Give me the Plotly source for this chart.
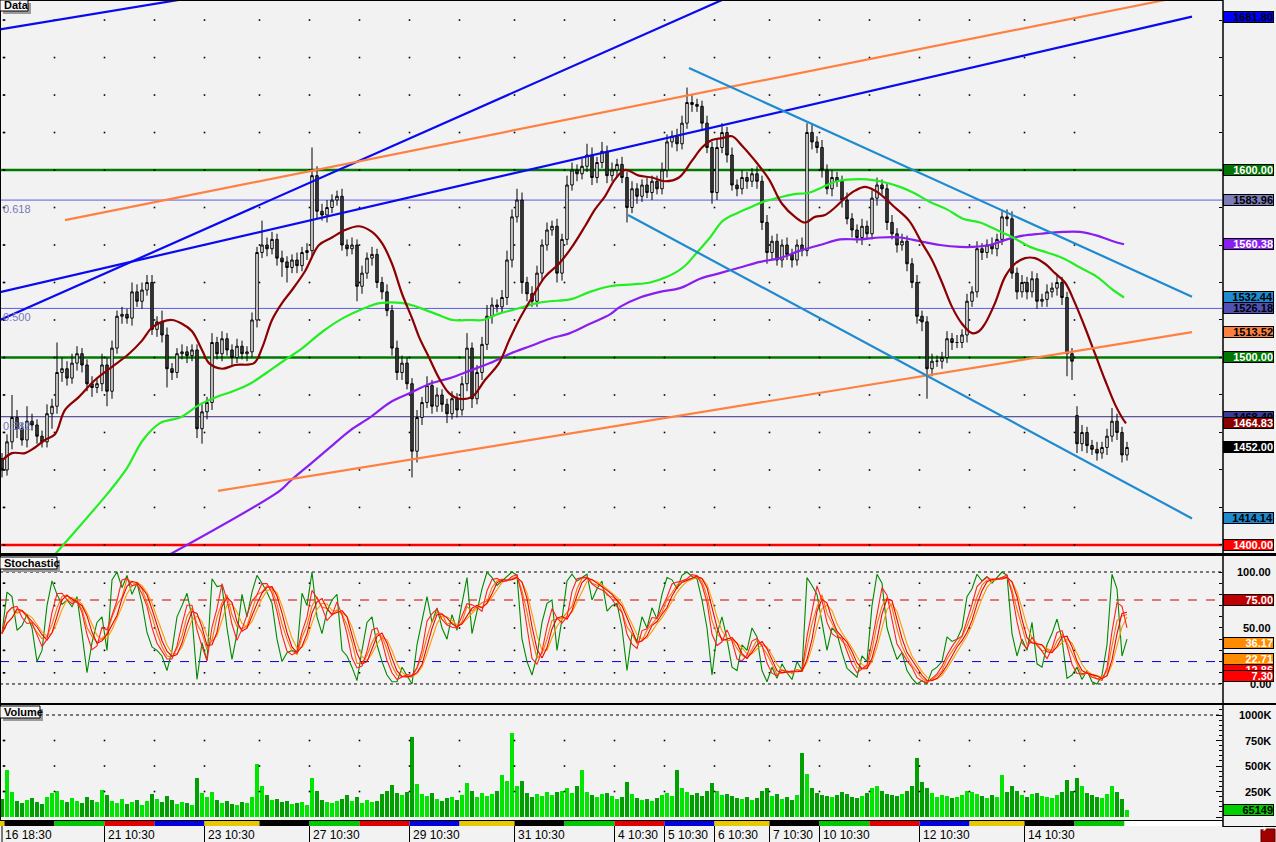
import plotly.graph_objects as go
import pandas as pd

W, H = 1276, 842
PLOT_R = 1222

# ---------------- data ----------------
close = [
    1440, 1455, 1468, 1462, 1456, 1466, 1464, 1458, 1455, 1470,
    1474, 1492, 1494, 1489, 1497, 1502, 1496, 1486, 1484, 1486,
    1496, 1482, 1505, 1522, 1523, 1521, 1535, 1530, 1536, 1540,
    1515, 1519, 1512, 1494, 1492, 1502, 1503, 1501, 1504, 1462,
    1471, 1476, 1508, 1502, 1510, 1504, 1500, 1506, 1502, 1503,
    1520, 1556, 1560, 1558, 1563, 1553, 1551, 1548, 1552, 1549,
    1556, 1557, 1597, 1578, 1576, 1580, 1584, 1586, 1560, 1558,
    1560, 1538, 1545, 1553, 1555, 1540, 1535, 1525, 1505, 1492,
    1497, 1486, 1450, 1468, 1476, 1485, 1474, 1480, 1475, 1470,
    1478, 1472, 1486, 1505, 1478, 1492, 1507, 1522, 1528, 1527,
    1532, 1552, 1575, 1584, 1540, 1534, 1530, 1545, 1560, 1568,
    1570, 1545, 1563, 1592, 1600, 1598, 1602, 1608, 1596, 1604,
    1610, 1597, 1600, 1603, 1596, 1580, 1590, 1586, 1592, 1588,
    1594, 1590, 1600, 1615, 1618, 1614, 1625, 1636, 1635, 1634,
    1625, 1612, 1588, 1612, 1620, 1608, 1592, 1590, 1596, 1594,
    1598, 1594, 1572, 1556, 1562, 1552, 1560, 1555, 1552, 1560,
    1557, 1620, 1615, 1612, 1600, 1590, 1596, 1594, 1584, 1574,
    1568, 1564, 1570, 1566, 1585, 1592, 1590, 1572, 1566, 1560,
    1562, 1550, 1540, 1522, 1519, 1494, 1498, 1498, 1500, 1510,
    1508, 1508, 1512, 1530, 1535, 1558, 1556, 1560, 1558, 1563,
    1575, 1574, 1545, 1535, 1540, 1535, 1542, 1530, 1531, 1535,
    1537, 1540, 1532, 1502, 1498, 1454, 1460, 1453, 1451, 1449,
    1452, 1458, 1466, 1460, 1448, 1452,
]
open_override = {0: 1446, 215: 1469}
up_wick = [
    3, 4, 12, 4, 3, 8, 4, 3, 3, 5,
    4, 16, 6, 4, 5, 4, 3, 3, 4, 3,
    6, 4, 4, 3, 4, 3, 5, 4, 4, 4,
    4, 3, 6, 4, 3, 3, 4, 3, 3, 3,
    4, 3, 5, 3, 4, 3, 3, 4, 3, 3,
    4, 3, 13, 4, 4, 3, 4, 3, 3, 4,
    3, 4, 15, 5, 4, 4, 3, 3, 4, 3,
    4, 3, 4, 3, 4, 3, 3, 4, 3, 4,
    4, 3, 3, 4, 3, 5, 3, 4, 3, 3,
    4, 3, 4, 8, 3, 4, 4, 6, 4, 3,
    4, 5, 4, 6, 4, 3, 4, 4, 3, 4,
    3, 4, 3, 5, 4, 3, 4, 6, 4, 3,
    5, 3, 4, 3, 4, 3, 4, 3, 3, 4,
    3, 3, 4, 4, 3, 4, 4, 8, 4, 3,
    3, 4, 3, 4, 5, 3, 4, 3, 4, 3,
    3, 4, 3, 4, 3, 4, 3, 4, 3, 3,
    4, 5, 4, 3, 4, 3, 4, 3, 3, 4,
    3, 3, 4, 3, 4, 4, 3, 3, 4, 3,
    4, 3, 3, 4, 3, 3, 4, 3, 3, 4,
    3, 4, 3, 4, 3, 4, 3, 3, 4, 3,
    3, 4, 4, 3, 4, 3, 4, 3, 3, 4,
    3, 4, 3, 3, 3, 5, 4, 3, 3, 4,
    3, 4, 7, 4, 3, 3,
]
dn_wick = [
    4, 3, 4, 5, 3, 4, 3, 4, 3, 3,
    8, 4, 5, 4, 3, 4, 4, 4, 5, 3,
    4, 8, 4, 3, 4, 3, 4, 3, 4, 3,
    3, 4, 4, 10, 4, 3, 3, 4, 3, 5,
    8, 4, 4, 3, 4, 3, 4, 3, 3, 4,
    3, 4, 3, 4, 3, 4, 8, 8, 3, 4,
    3, 4, 4, 4, 3, 4, 3, 3, 3, 4,
    3, 8, 4, 3, 4, 3, 4, 3, 4, 4,
    4, 3, 14, 6, 4, 3, 4, 3, 4, 5,
    3, 4, 3, 4, 5, 3, 4, 3, 4, 3,
    3, 4, 4, 3, 6, 4, 3, 3, 4, 3,
    3, 5, 4, 3, 3, 4, 3, 3, 4, 3,
    3, 4, 3, 4, 3, 8, 3, 4, 3, 3,
    4, 3, 3, 4, 3, 4, 3, 3, 4, 3,
    4, 3, 6, 4, 3, 4, 3, 4, 3, 4,
    3, 4, 4, 6, 4, 3, 4, 3, 4, 3,
    3, 3, 4, 3, 4, 3, 4, 3, 4, 3,
    4, 3, 4, 3, 3, 4, 3, 4, 3, 4,
    3, 4, 3, 4, 5, 16, 4, 3, 4, 3,
    4, 3, 3, 4, 3, 3, 4, 3, 3, 4,
    3, 4, 3, 4, 3, 4, 3, 4, 3, 4,
    3, 4, 4, 12, 10, 5, 4, 4, 3, 4,
    3, 4, 3, 4, 4, 3,
]
volume_k = [
    180, 460, 250, 160, 140, 170, 190, 150, 130, 200,
    240, 260, 170, 150, 190, 160, 140, 200, 170, 150,
    265, 220, 160, 140, 180, 130, 150, 170, 120, 160,
    230, 180, 150, 210, 170, 130, 150, 140, 120, 380,
    240, 200, 250, 170, 140, 160, 130, 120, 150, 140,
    200, 520, 300, 220, 170, 180, 150, 160, 130, 140,
    150, 120, 380, 260, 170, 150, 140, 160, 180, 220,
    160, 200, 140, 170, 150, 160, 230, 260, 310, 240,
    220, 250, 780, 320, 230, 210, 240, 180, 160, 190,
    200, 170, 220, 330, 260, 200, 240, 210, 230, 260,
    410, 350, 820, 300, 350, 240, 200, 230, 210, 250,
    220, 250, 260, 280, 240, 300, 460, 250, 220, 200,
    230, 240, 210, 180, 200, 340, 230, 190, 170, 180,
    160, 190, 220, 240, 210, 460, 280, 250, 220, 240,
    210, 260, 330, 260, 220, 230, 210, 190, 180, 200,
    170, 190, 260, 280, 210, 230, 180, 200, 170, 220,
    630, 420, 280, 240, 220, 210, 200, 220, 250, 230,
    200, 190, 210, 240, 280, 300, 260, 230, 220, 210,
    230, 260, 300, 580, 340, 280, 240, 200, 220, 210,
    190, 200, 220, 260, 250, 230, 210, 190, 220, 200,
    410, 250, 300, 260, 220, 200, 230, 240, 210, 200,
    190, 220, 250, 360, 260, 380, 300, 240, 220, 200,
    190, 230, 300, 250, 180, 65.149,
]
stoch_k = [
    45, 82, 78, 48, 52, 62, 50, 20, 30, 70,
    92, 80, 71, 75, 69, 78, 45, 10, 37, 55,
    60, 30, 93, 100, 86, 97, 80, 90, 72, 46,
    33, 30, 25, 12, 30, 60, 70, 81, 60, 4,
    37, 21, 94, 87, 88, 50, 22, 45, 80, 60,
    82, 97, 90, 82, 72, 40, 20, 28, 30, 28,
    81, 70, 100, 60, 45, 65, 75, 80, 30, 25,
    15, 3, 30, 55, 60, 35, 20, 8, 2, 2,
    15, 8, 0, 35, 55, 78, 55, 68, 50, 40,
    62, 48, 72, 95, 45, 65, 85, 100, 95, 88,
    92, 96, 100, 97, 40, 20, 8, 25, 55, 72,
    75, 30, 58, 92, 98, 92, 95, 98, 75, 85,
    92, 65, 70, 72, 50, 12, 45, 38, 60, 50,
    68, 58, 80, 95, 93, 85, 97, 100, 96, 94,
    75, 50, 8, 45, 60, 40, 15, 12, 35, 30,
    50, 42, 12, 2, 15, 5, 18, 10, 4, 20,
    12, 95, 88, 80, 55, 30, 50, 45, 28, 14,
    10, 6, 25, 20, 70, 98, 90, 50, 35, 22,
    28, 12, 5, 0, 3, 0, 12, 15, 20, 42,
    38, 40, 50, 78, 85, 98, 92, 96, 90, 95,
    100, 97, 45, 25, 40, 30, 55, 18, 15, 35,
    45, 58, 40, 5, 8, 15, 4, 12, 2, 0,
    8, 35, 98, 85, 25, 40,
]

# moving averages (bar index, value)
ma_fast_x = [0, 2, 4.6, 6.6, 8.6, 10.6, 12.6, 15.4, 18.6, 22, 25.4, 28, 30, 32, 34, 36, 38, 40, 41.4, 44,
             46.6, 50.4, 52, 54, 56, 58, 60.6, 63.4, 66, 68.6, 71.4, 74, 76, 78, 80, 82, 83.4, 85.4, 87.4,
             89.4, 91.4, 94, 96.6, 99.4, 101.4, 103.4, 106, 108.6, 111.4, 114, 116.6, 118.6, 120.6, 122.6,
             124.6, 127.4, 130, 132.6, 135.4, 138, 140, 142, 144, 146, 148, 150.6, 153.4, 156, 158.6, 160.6,
             162.6, 164.6, 166.6, 168.6, 170.6, 172.6, 174.6, 176.6, 178.6, 181.4, 184, 186, 188, 190, 192,
             194, 195.4, 196.6, 198.6, 200.6, 202.6, 204.6, 206.6, 208.6, 210.6, 212.6, 214.6, 216.6, 218.6,
             220.6, 222.6, 224, 224.8]
ma_fast_y = [1445, 1449, 1449, 1452, 1456, 1459, 1472, 1479, 1488, 1495, 1502, 1509, 1516, 1519, 1520, 1518,
             1514, 1504, 1497, 1494, 1496, 1497, 1505, 1520, 1529, 1536, 1546, 1560, 1564, 1568, 1570, 1567,
             1561, 1550, 1534, 1521, 1511, 1500, 1489, 1481, 1478, 1479, 1488, 1497, 1509, 1520, 1532, 1543,
             1550, 1559, 1570, 1579, 1586, 1595, 1600, 1597, 1596, 1594, 1596, 1605, 1612, 1616, 1617, 1618,
             1613, 1605, 1595, 1582, 1575, 1572, 1575, 1576, 1580, 1585, 1589, 1591, 1589, 1585, 1580, 1573,
             1561, 1552, 1540, 1527, 1518, 1513, 1514, 1518, 1529, 1543, 1550, 1553, 1553, 1550, 1545, 1540,
             1529, 1516, 1502, 1488, 1475, 1468, 1464.83]
ma_mid_x = [10.6, 21.6, 25, 28.2, 31.6, 35.6, 39.6, 43, 46.2, 49.6, 53, 56.2, 59.6, 64.2, 68.2, 72.2, 75.6,
            80.2, 83, 87, 90.2, 93.6, 96.2, 99, 103, 107, 109.6, 113.6, 117.6, 121.6, 126.2, 129.6, 133,
            136.2, 139, 141.6, 144.2, 147, 149.6, 152.2, 155, 158.2, 161.6, 164.2, 167, 170.2, 173, 175.6,
            179.6, 182.2, 185.6, 189, 192.2, 195.6, 199, 202.2, 205.6, 209, 212.2, 215.6, 219, 222.2, 224.4]
ma_mid_y = [1395, 1429, 1441, 1456, 1465, 1468, 1475, 1479, 1482, 1486, 1492, 1498, 1504, 1514, 1521, 1526,
            1529, 1529, 1527, 1523, 1520, 1520, 1520, 1523, 1526, 1529, 1530, 1531, 1535, 1538, 1539, 1540,
            1543, 1548, 1556, 1564, 1573, 1577, 1580, 1583, 1585, 1587, 1588, 1591, 1594, 1595, 1595, 1594,
            1591, 1588, 1583, 1579, 1574, 1572, 1568, 1564, 1559, 1556, 1553, 1548, 1543, 1536, 1532]
ma_slow_x = [33.6, 55.6, 57.6, 61.6, 65.6, 69.6, 73.6, 77.6, 81.6, 85.6, 89.6, 93.6, 97.6, 101.6, 105.6,
             109.6, 113.6, 117.6, 121.6, 123.6, 127.6, 131.6, 135.6, 139.6, 143.6, 147.6, 151.6, 155.6, 159.6,
             163.6, 167.6, 171.6, 175.6, 179.6, 183.6, 187.6, 191.6, 194.2, 197.6, 201, 204.2, 207.6, 212.2,
             215.6, 219, 222.2, 224.4]
ma_slow_y = [1395, 1429, 1434, 1443, 1452, 1461, 1468, 1476, 1481, 1486, 1489, 1493, 1497, 1502, 1506,
             1510, 1513, 1518, 1523, 1527, 1532, 1535, 1537, 1542, 1545, 1548, 1551, 1553, 1557, 1560,
             1563, 1563, 1564, 1564, 1562, 1560, 1559, 1559, 1560, 1563, 1565, 1566, 1567, 1567, 1565,
             1562, 1560.38]

# trend lines: (bar index, price) end points
tl_blue_a = [(-0.4, 1675.0), (40.0, 1692.8)]
tl_blue_b = [(-0.4, 1520.0), (144.0, 1690.7)]
tl_blue_c = [(-0.4, 1534.9), (238.0, 1681.8)]
tl_orange_up = [(12.6, 1573.3), (232.6, 1690.7)]
tl_orange_lo = [(43.2, 1428.8), (238.0, 1513.52)]
tl_chan_up = [(137.4, 1654.4), (238.0, 1532.44)]
tl_chan_lo = [(125.2, 1576.0), (238.0, 1414.14)]

h_levels = [1600.0, 1500.0]
support_level = 1400.0
fib_levels = [1583.96, 1526.18, 1468.40]
fib_names = ["0.618", "0.500", "0.382"]

price_labels = [1681.80, 1600.00, 1583.96, 1560.38, 1532.44, 1526.18, 1513.52, 1500.00,
                1468.40, 1464.83, 1452.00, 1414.14, 1400.00]
stoch_labels = [75.00, 36.17, 22.71, 12.86, 7.30]
vol_labels = [1000000, 750000, 500000, 250000]
last_volume = 65149

day_first_bar = [0, 1, 11, 21, 31, 41, 52, 62, 72, 82, 92, 103, 113, 123, 133, 143, 154, 164, 174, 184,
                 194, 205, 215, 225]
day_label = ["16 18:30", "", "", "21 10:30", "", "23 10:30", "", "27 10:30", "", "29 10:30", "",
             "31 10:30", "", "4 10:30", "5 10:30", "6 10:30", "7 10:30", "10 10:30", "", "12 10:30", "",
             "14 10:30", "", ""]
grid_prices = list(range(1400, 1690, 20))
stoch_grid = [10, 30, 50, 70, 90]
vol_grid = [250000, 500000, 750000]

# ---------------- derived ----------------
n = len(close)
bars = list(range(n))
opens = [open_override.get(i, close[i - 1] if i > 0 else close[0]) for i in range(n)]
highs = [max(o, c) + u for o, c, u in zip(opens, close, up_wick)]
lows = [min(o, c) - d for o, c, d in zip(opens, close, dn_wick)]
volume = [v * 1000 for v in volume_k]
vol_colors = ["#00e600" if c >= o else "#00a000" for o, c in zip(opens, close)]
k = pd.Series(stoch_k, dtype=float)
d1 = k.rolling(3, min_periods=1).mean()
d2 = d1.rolling(3, min_periods=1).mean()
d3 = k.rolling(4, min_periods=1).mean()
d4 = d3.rolling(3, min_periods=1).mean()
boundaries = [b - 0.5 for b in day_first_bar[1:]]


def fx(px):
    return px / W


def fy(py):
    return 1 - py / H


X_MIN = -0.4
X_MAX = (PLOT_R - 2) / 5
BG = "#f2f2f2"
FONT = "Liberation Sans"

fig = go.Figure()

# grid dots
def dots(levels, yref):
    gx, gy = [], []
    for b in [0.3] + boundaries[:-1]:
        for p in levels:
            gx.append(b)
            gy.append(p)
    fig.add_trace(go.Scatter(x=gx, y=gy, mode="markers",
                             marker=dict(size=1.6, color="black", symbol="square", line=dict(width=0)),
                             hoverinfo="skip", showlegend=False, yaxis=yref))


dots(grid_prices, "y")
dots(stoch_grid, "y2")
dots(vol_grid, "y3")


def tl(pts, color, width=2.2):
    fig.add_trace(go.Scatter(x=[p[0] for p in pts], y=[p[1] for p in pts], mode="lines",
                             line=dict(color=color, width=width), hoverinfo="skip", showlegend=False,
                             yaxis="y"))


# moving averages
fig.add_trace(go.Scatter(x=ma_slow_x, y=ma_slow_y, mode="lines", line=dict(color="#8a1ef0", width=2.2, shape="spline"),
                         hoverinfo="skip", showlegend=False, yaxis="y"))
fig.add_trace(go.Scatter(x=ma_mid_x, y=ma_mid_y, mode="lines", line=dict(color="#22ee22", width=2.2, shape="spline"),
                         hoverinfo="skip", showlegend=False, yaxis="y"))

# candles
fig.add_trace(go.Candlestick(
    x=bars, open=opens, high=highs, low=lows, close=close,
    increasing=dict(line=dict(color="black", width=1), fillcolor="white"),
    decreasing=dict(line=dict(color="black", width=1), fillcolor="#444444"),
    whiskerwidth=0, hoverinfo="skip", showlegend=False, xaxis="x", yaxis="y"))

fig.add_trace(go.Scatter(x=ma_fast_x, y=ma_fast_y, mode="lines", line=dict(color="#8b0000", width=2.2, shape="spline"),
                         hoverinfo="skip", showlegend=False, yaxis="y"))

tl(tl_blue_a, "#0a0af0")
tl(tl_blue_b, "#0a0af0")
tl(tl_blue_c, "#0a0af0")
tl(tl_orange_up, "#ff8040")
tl(tl_orange_lo, "#ff8040")
tl(tl_chan_up, "#1e8ad0")
tl(tl_chan_lo, "#1e8ad0")

# stochastic
fig.add_trace(go.Scatter(x=bars, y=stoch_k, mode="lines", line=dict(color="#008800", width=1.1),
                         hoverinfo="skip", showlegend=False, yaxis="y2"))
for ser, col in [(d4, "#ff9900"), (d3, "#ff7000"), (d2, "#ee0000"), (d1, "#ff2020")]:
    fig.add_trace(go.Scatter(x=bars, y=ser, mode="lines", line=dict(color=col, width=1.1),
                             hoverinfo="skip", showlegend=False, yaxis="y2"))

# volume
fig.add_trace(go.Bar(x=bars, y=volume, marker=dict(color=vol_colors, line=dict(width=0)), width=0.75,
                     hoverinfo="skip", showlegend=False, yaxis="y3"))

shapes = []
# horizontal levels
for lv in h_levels:
    shapes.append(dict(type="line", xref="paper", yref="y", x0=0, x1=fx(PLOT_R), y0=lv, y1=lv,
                       line=dict(color="#007a00", width=2.5), layer="below"))
shapes.append(dict(type="line", xref="paper", yref="y", x0=0, x1=fx(PLOT_R), y0=support_level, y1=support_level,
                   line=dict(color="#ff0000", width=2.5), layer="below"))
for i, lv in enumerate(fib_levels):
    col = "#5a5ae6" if i < 2 else "#3a2a8a"
    shapes.append(dict(type="line", xref="paper", yref="y", x0=0, x1=fx(PLOT_R), y0=lv, y1=lv,
                       line=dict(color=col, width=1), layer="below"))
# stochastic reference lines
shapes.append(dict(type="line", xref="paper", yref="y2", x0=0, x1=fx(PLOT_R), y0=75, y1=75,
                   line=dict(color="#cc0000", width=1, dash="dash"), layer="below"))
shapes.append(dict(type="line", xref="paper", yref="y2", x0=0, x1=fx(PLOT_R), y0=20, y1=20,
                   line=dict(color="#0000cc", width=1, dash="dash"), layer="below"))
for lv in [0, 100]:
    shapes.append(dict(type="line", xref="paper", yref="y2", x0=0, x1=fx(PLOT_R), y0=lv, y1=lv,
                       line=dict(color="#000000", width=1, dash="dot"), layer="below"))
shapes.append(dict(type="line", xref="paper", yref="y3", x0=fx(46), x1=fx(PLOT_R), y0=1000000, y1=1000000,
                   line=dict(color="#000000", width=1, dash="dot"), layer="below"))

# panel separators / frame
for py, w in [(554.5, 3), (704, 2)]:
    shapes.append(dict(type="line", xref="paper", yref="paper", x0=0, x1=1, y0=fy(py), y1=fy(py),
                       line=dict(color="black", width=w)))
shapes.append(dict(type="line", xref="paper", yref="paper", x0=0, x1=fx(PLOT_R + 1), y0=fy(820.5), y1=fy(820.5),
                   line=dict(color="black", width=1)))
shapes.append(dict(type="line", xref="paper", yref="paper", x0=fx(PLOT_R + 1), x1=1, y0=fy(826.5), y1=fy(826.5),
                   line=dict(color="black", width=1)))
shapes.append(dict(type="line", xref="paper", yref="paper", x0=fx(PLOT_R + 1), x1=fx(PLOT_R + 1), y0=fy(0), y1=fy(827),
                   line=dict(color="black", width=1.5)))
shapes.append(dict(type="line", xref="paper", yref="paper", x0=fx(0.5), x1=fx(0.5), y0=fy(0), y1=fy(820),
                   line=dict(color="black", width=1)))
shapes.append(dict(type="line", xref="paper", yref="paper", x0=0, x1=fx(PLOT_R + 1), y0=fy(0.5), y1=fy(0.5),
                   line=dict(color="black", width=1)))

# day colour strip and ticks
day_colors = ["#e8c800", "#000000", "#00c800", "#e00000", "#0000e0"]
seg_edges = [X_MIN] + boundaries
for i in range(len(seg_edges) - 1):
    shapes.append(dict(type="rect", xref="x", yref="paper", x0=seg_edges[i], x1=seg_edges[i + 1],
                       y0=fy(826), y1=fy(821), fillcolor=day_colors[i % 5], line=dict(width=0)))
shapes.append(dict(type="rect", xref="x", yref="paper", x0=seg_edges[-1], x1=X_MAX,
                   y0=fy(826), y1=fy(821), fillcolor="#ffffff", line=dict(width=0)))

annotations = []
for b, lab in zip(day_first_bar, day_label):
    if not lab:
        continue
    xpos = 0 if b == 0 else b - 0.5
    shapes.append(dict(type="line", xref="x", yref="paper", x0=xpos, x1=xpos, y0=fy(842), y1=fy(826),
                       line=dict(color="black", width=1)))
    annotations.append(dict(x=xpos, xref="x", y=fy(834.5), yref="paper", text=lab, showarrow=False,
                            xanchor="left", yanchor="middle", xshift=1,
                            font=dict(family=FONT, size=12, color="black")))

# panel tags
for txt, (x0, y0, x1, y1) in [("Data", (0, 0, 28, 11)), ("Stochastic", (0, 557, 57, 569)),
                              ("Volume", (0, 706, 40, 718))]:
    shapes.append(dict(type="rect", xref="paper", yref="paper", x0=fx(x0 + 3), x1=fx(x1 + 3),
                       y0=fy(y1 + 3), y1=fy(y0 + 3), fillcolor="#9a9a9a", line=dict(width=0)))
    shapes.append(dict(type="rect", xref="paper", yref="paper", x0=fx(x0), x1=fx(x1),
                       y0=fy(y1), y1=fy(y0), fillcolor="#f8f8f8", line=dict(color="black", width=1)))
    annotations.append(dict(x=fx(x0 + 2), y=fy((y0 + y1) / 2), xref="paper", yref="paper", text="<b>" + txt + "</b>",
                            showarrow=False, xanchor="left", yanchor="middle",
                            font=dict(family=FONT, size=11, color="black")))

# fib text
for lv, nm in zip(fib_levels, fib_names):
    annotations.append(dict(x=fx(1), y=lv, xref="paper", yref="y", text=nm, showarrow=False,
                            xanchor="left", yanchor="top", yshift=-1,
                            font=dict(family=FONT, size=11, color="#7878b8")))

# right side value labels
price_bg = ["#0000ff", "#007800", "#7c7cb8", "#8a1ef0", "#1e8ad0", "#5050b8", "#ff8040", "#007800",
            "#3a3a9a", "#8b0000", "#000000", "#1e8ad0", "#ff0000"]
price_fg = ["black", "white", "black", "white", "black", "black", "black", "white",
            "black", "white", "white", "black", "white"]


def tag(val, yref, text, bg, fg):
    annotations.append(dict(x=fx(1274), y=val, xref="paper", yref=yref, text="<b>" + text + "</b>",
                            showarrow=False, xanchor="right", yanchor="middle", align="right",
                            bgcolor=bg, bordercolor="black", borderwidth=1, borderpad=0, width=49, height=10,
                            font=dict(family=FONT, size=11, color=fg)))


for val, bg, fg in zip(price_labels, price_bg, price_fg):
    tag(val, "y", f"{val:.2f}", bg, fg)

for val in [100, 50, 0]:
    annotations.append(dict(x=fx(1273), y=val, xref="paper", yref="y2", text=f"<b>{val:.2f}</b>",
                            showarrow=False, xanchor="right", yanchor="middle",
                            font=dict(family=FONT, size=11, color="black")))
stoch_bg = ["#c00000", "#ff8c00", "#ff8c00", "#ff0000", "#ff0000"]
for val, bg in zip(stoch_labels, stoch_bg):
    tag(val, "y2", f"{val:.2f}", bg, "white")

for val in vol_labels:
    annotations.append(dict(x=fx(1273), y=val, xref="paper", yref="y3", text=f"<b>{val // 1000}K</b>",
                            showarrow=False, xanchor="right", yanchor="middle",
                            font=dict(family=FONT, size=11, color="black")))
tag(last_volume, "y3", f"{last_volume}", "#00d000", "black")

# corner icon
shapes.append(dict(type="rect", xref="paper", yref="paper", x0=fx(1261), x1=fx(1275), y0=fy(842), y1=fy(829),
                   fillcolor="#a00000", line=dict(color="#600000", width=1)))
annotations.append(dict(x=fx(1268), y=fy(835.5), xref="paper", yref="paper", text="<b>→</b>", showarrow=False,
                        font=dict(family="DejaVu Sans", size=10, color="white")))

fig.update_layout(
    width=W, height=H, autosize=False,
    margin=dict(l=0, r=0, t=0, b=0),
    paper_bgcolor=BG, plot_bgcolor=BG,
    showlegend=False,
    xaxis=dict(domain=[0, fx(PLOT_R)], range=[X_MIN, X_MAX], anchor="y3", showticklabels=False,
               showgrid=False, zeroline=False, ticks="", showline=False, rangeslider=dict(visible=False),
               fixedrange=True),
    yaxis=dict(domain=[fy(553), 1], range=[1395.7, 1690.7], side="right", anchor="x", ticks="inside",
               tick0=1400, dtick=20, ticklen=3, tickcolor="black", showticklabels=False, showgrid=False,
               zeroline=False, fixedrange=True),
    yaxis2=dict(domain=[fy(703), fy(556)], range=[-17, 114.3], side="right", anchor="x", ticks="inside",
                tickvals=list(range(0, 101, 10)), ticklen=3, tickcolor="black", showticklabels=False,
                showgrid=False, zeroline=False, fixedrange=True),
    yaxis3=dict(domain=[fy(820), fy(705)], range=[-29000, 1098000], side="right", anchor="x", ticks="inside",
                tick0=0, dtick=250000, ticklen=6, tickcolor="black", showticklabels=False, showgrid=False,
                zeroline=False, fixedrange=True,
                minor=dict(dtick=50000, ticks="inside", ticklen=3, tickcolor="black")),
    shapes=shapes,
    annotations=annotations,
    bargap=0,
)

fig.write_html("out.html", config={"displayModeBar": False},
               post_script="document.body.style.margin='0';document.body.style.overflow='hidden';")
